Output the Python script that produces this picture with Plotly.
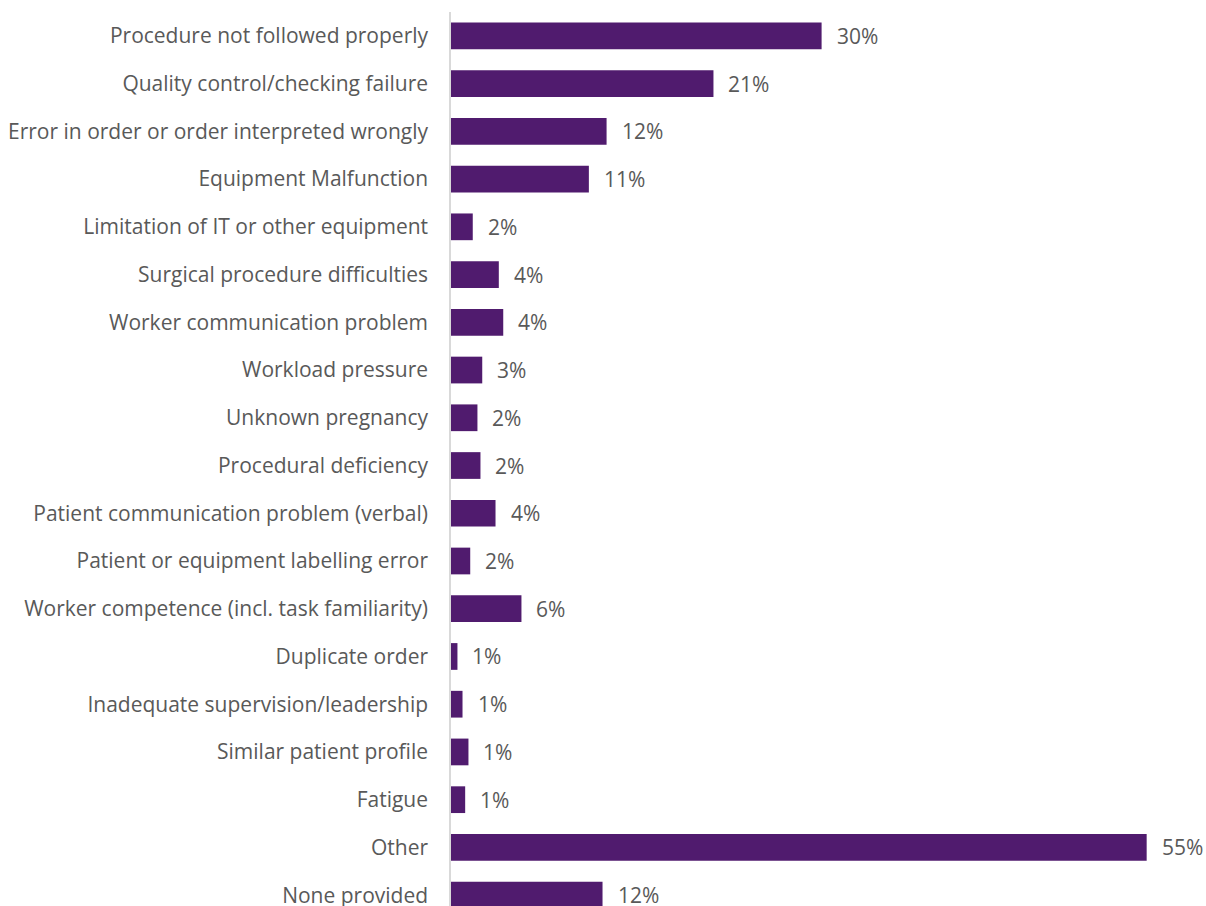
import plotly.graph_objects as go

categories = [
    "Procedure not followed properly",
    "Quality control/checking failure",
    "Error in order or order interpreted wrongly",
    "Equipment Malfunction",
    "Limitation of IT or other equipment",
    "Surgical procedure difficulties",
    "Worker communication problem",
    "Workload pressure",
    "Unknown pregnancy",
    "Procedural deficiency",
    "Patient communication problem (verbal)",
    "Patient or equipment labelling error",
    "Worker competence (incl. task familiarity)",
    "Duplicate order",
    "Inadequate supervision/leadership",
    "Similar patient profile",
    "Fatigue",
    "Other",
    "None provided",
]
values = [29.3, 20.75, 12.3, 10.9, 1.72, 3.78, 4.13, 2.47, 2.09, 2.33, 3.52,
          1.52, 5.57, 0.51, 0.91, 1.38, 1.12, 55.0, 11.98]
value_labels = ["30%", "21%", "12%", "11%", "2%", "4%", "4%", "3%", "2%", "2%",
                "4%", "2%", "6%", "1%", "1%", "1%", "1%", "55%", "12%"]

idx = list(range(len(categories)))
FONT = "Open Sans"
TXT = "#595959"

fig = go.Figure()
fig.add_trace(go.Bar(
    x=values, y=idx, orientation="h", width=0.56,
    marker=dict(color="#501B6E", line=dict(width=0)),
    hoverinfo="skip",
))
for i, v, t in zip(idx, values, value_labels):
    fig.add_annotation(x=v, y=i, text=t, showarrow=False, xanchor="left",
                       xshift=13, font=dict(family=FONT, size=21, color=TXT))

fig.update_layout(
    width=1206, height=906,
    margin=dict(l=451, r=10, t=12, b=0, autoexpand=False),
    paper_bgcolor="white", plot_bgcolor="white",
    showlegend=False,
    font=dict(family=FONT, size=21, color=TXT),
)
fig.update_xaxes(range=[0, 58.9], showgrid=False, zeroline=False,
                 showticklabels=False, showline=False, automargin=False)
fig.update_yaxes(range=[18.227, -0.5], tickvals=idx, ticktext=categories,
                 showgrid=False, zeroline=False, ticks="",
                 showline=True, linecolor="#D9D9D9", linewidth=1.5,
                 ticklabelstandoff=17, ticklabeloverflow="allow",
                 automargin=False,
                 tickfont=dict(family=FONT, size=21, color=TXT))
fig.write_html("out.html")
